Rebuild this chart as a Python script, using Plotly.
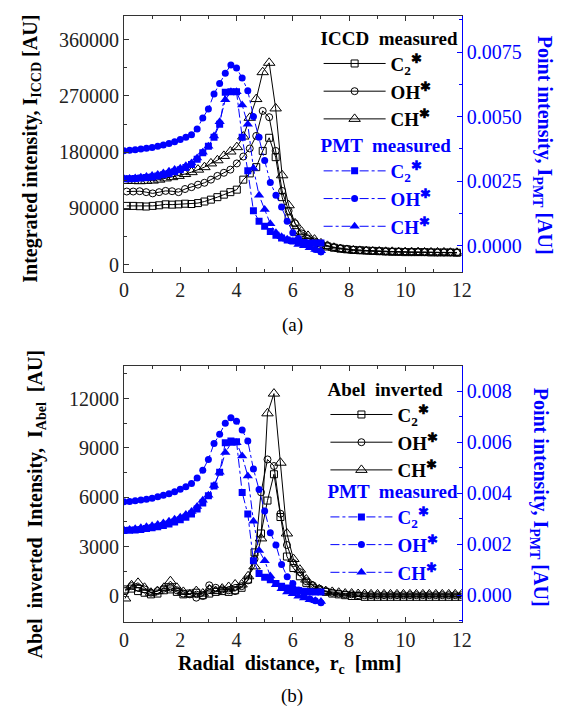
import plotly.graph_objects as go

# ---------------- data: panel (a) ----------------
x_iccd_a = [0.10, 0.33, 0.56, 0.79, 1.02, 1.25, 1.48, 1.71, 1.94, 2.17, 2.40, 2.63, 2.86, 3.09, 3.32, 3.55,
            3.78, 4.01, 4.24, 4.47, 4.70, 4.93, 5.16, 5.39, 5.62, 5.85, 6.08, 6.31, 6.54, 6.77, 7.00, 7.23,
            7.46, 7.69, 7.92, 8.15, 8.38, 8.61, 8.84, 9.07, 9.30, 9.53, 9.76, 9.99, 10.22, 10.45, 10.68,
            10.91, 11.14, 11.37, 11.60, 11.83]
iccd_c2_a = [94000, 94000, 93500, 93000, 94000, 95000, 96500, 96000, 96500, 97500,
             97000, 98500, 101000, 104000, 108000, 112000, 116000, 120000, 136000, 146000,
             156000, 182000, 203000, 172000, 108000, 74000, 52000, 42000, 37000, 34000,
             31000, 29000, 27000, 25500, 24500, 23500, 23000, 22500, 22000, 21500,
             21000, 20500, 20500, 20000, 20000, 20000, 20000, 19500, 19500, 19500, 19500, 19000]
iccd_oh_a = [117000, 117000, 117500, 116000, 114000, 116000, 118000, 117500, 116000, 121000,
             124000, 128000, 131000, 136000, 142000, 147000, 152000, 162000, 173000, 186000,
             206000, 246000, 236000, 182000, 118000, 86000, 66000, 50000, 42000, 37000,
             33000, 30000, 28000, 26000, 25000, 24000, 23000, 22500, 22000, 21500,
             21000, 21000, 20500, 20500, 20000, 20000, 20000, 20000, 19500, 19500, 19500, 19500]
iccd_ch_a = [134000, 134000, 133500, 134000, 134500, 136000, 138000, 140000, 142000, 145000,
             148000, 152000, 156000, 162000, 167000, 174000, 181000, 188000, 205000, 235000,
             265000, 308000, 323000, 250000, 143000, 95000, 66000, 53000, 46000, 40000,
             34000, 30000, 27000, 25000, 23500, 22500, 22000, 21500, 21000, 21000,
             20500, 20500, 20000, 20000, 20000, 20000, 19500, 19500, 19500, 19500, 19000, 19000]

x_pmt = [0.0, 0.2, 0.4, 0.6, 0.8, 1.0, 1.2, 1.4, 1.6, 1.8, 2.0, 2.2, 2.4, 2.6, 2.8, 3.0, 3.2, 3.4,
         3.6, 3.8, 4.0, 4.2, 4.4, 4.6, 4.8, 5.0, 5.2, 5.4, 5.6, 5.8, 6.0, 6.2, 6.4, 6.6, 6.8, 7.0]
pmt_c2_a = [0.00259, 0.00259, 0.00260, 0.00262, 0.00264, 0.00266, 0.00270, 0.00275, 0.00280, 0.00286,
            0.00294, 0.00303, 0.00315, 0.00335, 0.00360, 0.00385, 0.00420, 0.00470, 0.00594, 0.00596,
            0.00596, 0.00420, 0.00290, 0.00135, 0.00095, 0.00075, 0.00055, 0.00040, 0.00030, 0.00022,
            0.00018, 0.00015, 0.00012, 0.00010, 0.00010, 0.00010]
pmt_oh_a = [0.00368, 0.00370, 0.00372, 0.00375, 0.00377, 0.00380, 0.00385, 0.00390, 0.00396, 0.00403,
            0.00411, 0.00420, 0.00430, 0.00452, 0.00495, 0.00530, 0.00588, 0.00628, 0.00668, 0.00700,
            0.00688, 0.00650, 0.00600, 0.00500, 0.00420, 0.00330, 0.00245, 0.00195, 0.00150, 0.00095,
            0.00050, 0.00028, 0.00010, 0.00000, -0.00015, -0.00024]
pmt_ch_a = [0.00259, 0.00260, 0.00262, 0.00265, 0.00268, 0.00272, 0.00276, 0.00282, 0.00288, 0.00295,
            0.00300, 0.00310, 0.00320, 0.00340, 0.00362, 0.00385, 0.00425, 0.00480, 0.00565, 0.00596,
            0.00596, 0.00545, 0.00470, 0.00300, 0.00195, 0.00140, 0.00085, 0.00050, 0.00035, 0.00025,
            0.00015, 0.00005, 0.00000, -0.00008, -0.00015, -0.00020]

# ---------------- data: panel (b) ----------------
x_iccd_b = [0.04, 0.27, 0.50, 0.73, 0.96, 1.19, 1.42, 1.65, 1.88, 2.11, 2.34, 2.57, 2.80, 3.03, 3.26, 3.49,
            3.72, 3.95, 4.18, 4.41, 4.64, 4.87, 5.10, 5.33, 5.56, 5.79, 6.02, 6.25, 6.48, 6.71, 6.94, 7.17,
            7.40, 7.63, 7.86, 8.09, 8.32, 8.55, 8.78, 9.01, 9.24, 9.47, 9.70, 9.93, 10.16, 10.39, 10.62,
            10.85, 11.08, 11.31, 11.54, 11.77, 12.00]
abel_c2_b = [400, 450, 300, 200, 100, 150, 350, 400, 250, 100,
             150, 200, 50, 150, 250, 300, 250, 350, 500, 1000,
             2650, 3800, 5800, 7400, 4800, 2400, 1700, 1200, 800, 500,
             350, 250, 150, 100, 50, 0, 0, -50, -50, -50,
             -50, -50, -50, -50, -50, -50, -50, -50, -50, -50, -50, -50, -50]
abel_oh_b = [300, 600, 500, 400, 200, 300, 450, 500, 350, 150,
             100, -100, 0, 650, 500, 400, 350, 300, 600, 950,
             2250, 6300, 8300, 7900, 5000, 3100, 2000, 1450, 900, 650,
             450, 300, 200, 150, 100, 100, 50, 50, 50, 50,
             50, 50, 50, 50, 50, 50, 50, 50, 50, 50, 50, 50, 50]
abel_ch_b = [-150, 650, 800, 500, 200, 300, 500, 900, 500, 250,
             100, 300, 150, 400, 300, 450, 550, 700, 700, 1200,
             1800, 3500, 11100, 12300, 8100, 3800, 2250, 1600, 1000, 600,
             400, 300, 250, 200, 150, 150, 120, 120, 100, 100,
             100, 100, 100, 100, 100, 100, 100, 100, 100, 100, 100, 100, 100]
pmt_c2_b = [0.00254, 0.00255, 0.00256, 0.00258, 0.00261, 0.00264, 0.00268, 0.00273, 0.00279, 0.00287,
            0.00296, 0.00306, 0.00318, 0.00338, 0.00362, 0.00390, 0.00428, 0.00482, 0.00598, 0.00605,
            0.00602, 0.00403, 0.00318, 0.00135, 0.00085, 0.00070, 0.00060, 0.00045, 0.00035, 0.00028,
            0.00022, 0.00018, 0.00015, 0.00013, 0.00012, 0.00012]
pmt_oh_b = [0.00367, 0.00368, 0.00370, 0.00373, 0.00376, 0.00380, 0.00386, 0.00392, 0.00398, 0.00406,
            0.00416, 0.00425, 0.00438, 0.00460, 0.00490, 0.00533, 0.00595, 0.00632, 0.00675, 0.00697,
            0.00683, 0.00648, 0.00605, 0.00495, 0.00415, 0.00330, 0.00245, 0.00197, 0.00120, 0.00072,
            0.00045, 0.00020, 0.00000, -0.00015, -0.00022, -0.00030]
pmt_ch_b = [0.00256, 0.00258, 0.00260, 0.00264, 0.00268, 0.00272, 0.00277, 0.00283, 0.00290, 0.00298,
            0.00306, 0.00316, 0.00328, 0.00348, 0.00372, 0.00392, 0.00430, 0.00482, 0.00560, 0.00595,
            0.00598, 0.00546, 0.00468, 0.00290, 0.00175, 0.00135, 0.00075, 0.00040, 0.00025, 0.00012,
            0.00005, -0.00005, -0.00012, -0.00018, -0.00022, -0.00025]

species = ["C<sub>2</sub><sup>✱</sup>", "OH<sup>✱</sup>", "CH<sup>✱</sup>"]

BLUE = "#0000ff"
FONT = "Liberation Serif"
OFF = 8                      # page body margin
W, H = 570 - OFF, 717 - OFF  # figure size so that it fills the window


def px(xp):
    return (xp - OFF) / W


def py(yp):
    return 1 - (yp - OFF) / H


fig = go.Figure()

open_sym = ["square-open", "circle-open", "triangle-up-open"]
open_size = [7, 7, 10]
fill_sym = ["square", "circle", "triangle-up"]
fill_size = [7, 7, 9]


def add_black(x, ys, xa, ya, legend):
    for name, y, s, sz in zip(species, ys, open_sym, open_size):
        fig.add_trace(go.Scatter(
            x=x, y=y, xaxis=xa, yaxis=ya, mode="lines+markers", name="<b>" + name + "</b>",
            line=dict(color="black", width=1),
            marker=dict(symbol=s, size=sz, color="black", line=dict(width=1, color="black")),
            legend=legend))


def add_blue(x, ys, xa, ya, legend):
    for name, y, s, sz in zip(species, ys, fill_sym, fill_size):
        fig.add_trace(go.Scatter(
            x=x, y=y, xaxis=xa, yaxis=ya, mode="lines+markers", name="<b>" + name + "</b>",
            line=dict(color=BLUE, width=1, dash="dashdot"),
            marker=dict(symbol=s, size=sz, color=BLUE, line=dict(width=0)),
            legend=legend))


add_black(x_iccd_a, [iccd_c2_a, iccd_oh_a, iccd_ch_a], "x", "y", "legend")
add_blue(x_pmt, [pmt_c2_a, pmt_oh_a, pmt_ch_a], "x", "y2", "legend2")
add_black(x_iccd_b, [abel_c2_b, abel_oh_b, abel_ch_b], "x2", "y3", "legend3")
add_blue(x_pmt, [pmt_c2_b, pmt_oh_b, pmt_ch_b], "x2", "y4", "legend4")

xd = [px(122), px(469)]
dom_a = [py(273), py(16)]
dom_b = [py(625), py(368)]

tick_font = dict(family=FONT, size=20, color="#222")
blue_tick_font = dict(family=FONT, size=20, color=BLUE)


def xax(anchor):
    return dict(domain=xd, anchor=anchor, range=[0, 12], dtick=2, tick0=0,
                ticks="inside", ticklen=5, tickcolor="#333",
                minor=dict(dtick=1, ticks="inside", ticklen=3, tickcolor="#333"),
                showline=True, linecolor="#333", linewidth=1, mirror="ticks",
                showgrid=False, zeroline=False, tickfont=tick_font)


def yleft(dom, anchor, rng, dtick, fmt):
    return dict(domain=dom, anchor=anchor, range=rng, dtick=dtick, tick0=0, tickformat=fmt,
                ticks="inside", ticklen=5, tickcolor="#333",
                minor=dict(dtick=dtick / 2, ticks="inside", ticklen=3, tickcolor="#333"),
                showline=True, linecolor="#333", linewidth=1,
                showgrid=False, zeroline=False, tickfont=tick_font)


def yright(over, anchor, rng, dtick, fmt):
    return dict(overlaying=over, anchor=anchor, side="right", range=rng, dtick=dtick, tick0=0,
                tickformat=fmt, ticks="inside", ticklen=5, tickcolor=BLUE,
                minor=dict(dtick=dtick / 2, ticks="inside", ticklen=3, tickcolor=BLUE),
                showline=True, linecolor=BLUE, linewidth=1,
                showgrid=False, zeroline=False, tickfont=blue_tick_font)


def leg(xp, yp, title, color):
    return dict(x=px(xp), y=py(yp), xanchor="left", yanchor="top",
                bgcolor="rgba(0,0,0,0)", borderwidth=0, itemwidth=62,
                font=dict(family=FONT, size=19, color=color),
                title=dict(text="<b>" + title + "</b>", font=dict(family=FONT, size=19, color=color)),
                tracegroupgap=0, itemclick=False, itemdoubleclick=False)


fig.update_layout(
    width=W, height=H,
    margin=dict(l=0, r=0, t=0, b=0),
    paper_bgcolor="white", plot_bgcolor="white",
    font=dict(family=FONT, size=18, color="black"),
    xaxis=xax("y"),
    yaxis=yleft(dom_a, "x", [-11000, 398000], 90000, "d"),
    yaxis2=yright("y", "x", [-0.001, 0.0089], 0.0025, ".4f"),
    xaxis2=xax("y3"),
    yaxis3=yleft(dom_b, "x2", [-1550, 13980], 3000, "d"),
    yaxis4=yright("y3", "x2", [-0.00104, 0.009], 0.002, ".3f"),
    legend=leg(322, 20, "ICCD  measured", "black"),
    legend2=leg(322, 128, "PMT  measured", BLUE),
    legend3=leg(329, 373, "Abel  inverted", "black"),
    legend4=leg(329, 476, "PMT  measured", BLUE),
    showlegend=True,
)

ann = [
    dict(x=px(27), y=py(149), text="<b>Integrated intensity, I<sub>ICCD</sub> [AU]</b>",
         textangle=-90, font=dict(family=FONT, size=20, color="black")),
    dict(x=px(553), y=py(146), text="<b>Point intensity, I<sub>PMT</sub> [AU]</b>",
         textangle=90, font=dict(family=FONT, size=20, color=BLUE)),
    dict(x=px(32), y=py(507),
         text="<b>Abel\u00a0 inverted\u00a0 Intensity,\u00a0 I<sub>Abel</sub>\u00a0 [AU]</b>",
         textangle=-90, font=dict(family=FONT, size=20, color="black")),
    dict(x=px(549), y=py(500), text="<b>Point intensity, I<sub>PMT</sub> [AU]</b>",
         textangle=90, font=dict(family=FONT, size=20, color=BLUE)),
    dict(x=px(292), y=py(668), text="<b>Radial\u00a0 distance,\u00a0 r<sub>c</sub>\u00a0 [mm]</b>",
         font=dict(family=FONT, size=20, color="black")),
    dict(x=px(295), y=py(327), text="(a)", font=dict(family=FONT, size=19, color="black")),
    dict(x=px(295), y=py(700), text="(b)", font=dict(family=FONT, size=19, color="black")),
]
for a in ann:
    a.update(xref="paper", yref="paper", showarrow=False, xanchor="center", yanchor="middle")
fig.update_layout(annotations=ann)

fig.write_html("out.html")
